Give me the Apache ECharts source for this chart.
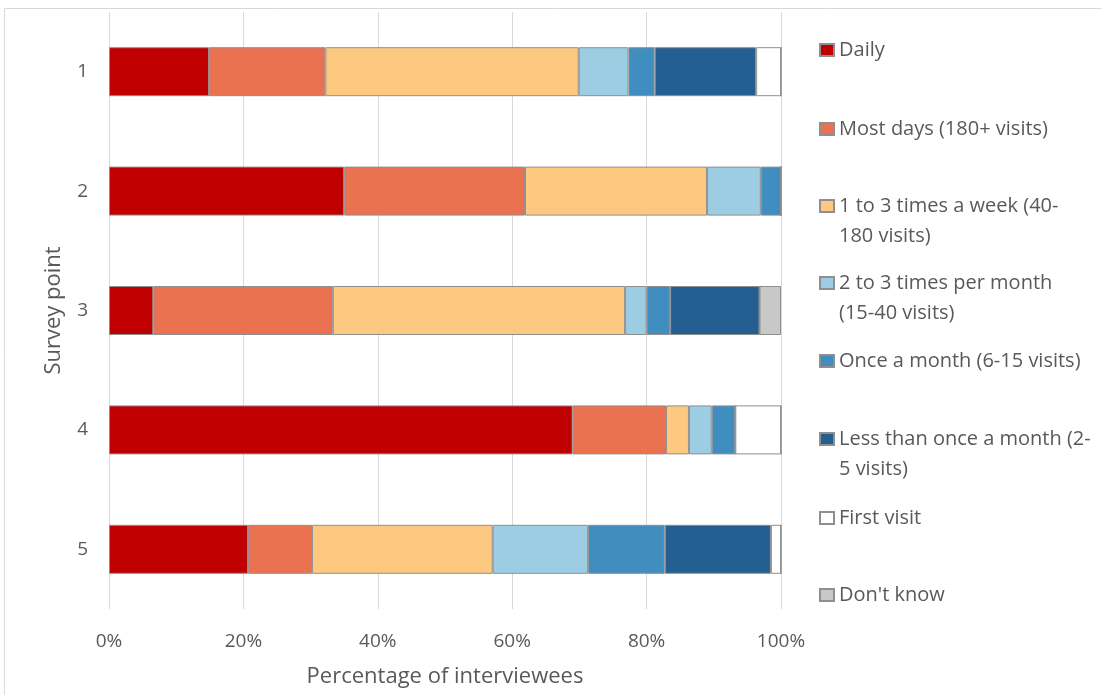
<!DOCTYPE html>
<html>
<head>
<meta charset="utf-8">
<script src="https://cdn.jsdelivr.net/npm/echarts@6/dist/echarts.min.js"></script>
<style>
  html, body { margin: 0; padding: 0; background: #fff; }
  #chart { width: 1101px; height: 695px; }
</style>
</head>
<body>
<div id="chart"></div>
<script>
// Survey points (one stacked bar each) and share of interviewees per visit frequency, in %
const surveyPoints = ['1', '2', '3', '4', '5'];
const daily           = [14.9, 35.0,  6.6, 69.0, 20.7];
const mostDays        = [17.3, 26.9, 26.7, 13.9,  9.5];
const weekly          = [37.7, 27.1, 43.5,  3.4, 26.9];
const twoThreeMonthly = [ 7.4,  8.0,  3.2,  3.4, 14.2];
const monthly         = [ 3.9,  3.0,  3.5,  3.5, 11.4];
const lessThanMonthly = [15.1,  0.0, 13.3,  0.0, 15.8];
const firstVisit      = [ 3.7,  0.0,  0.0,  6.8,  1.5];
const dontKnow        = [ 0.0,  0.0,  3.2,  0.0,  0.0];

const seriesNames = [
  'Daily',
  'Most days (180+ visits)',
  '1 to 3 times a week (40-180 visits)',
  '2 to 3 times per month (15-40 visits)',
  'Once a month (6-15 visits)',
  'Less than once a month (2-5 visits)',
  'First visit',
  "Don't know"
];
// Legend text, wrapped the way it is laid out beside the plot
const legendLines = [
  ['Daily'],
  ['Most days (180+ visits)'],
  ['1 to 3 times a week (40-', '180 visits)'],
  ['2 to 3 times per month', '(15-40 visits)'],
  ['Once a month (6-15 visits)'],
  ['Less than once a month (2-', '5 visits)'],
  ['First visit'],
  ["Don't know"]
];
const seriesValues = [daily, mostDays, weekly, twoThreeMonthly, monthly, lessThanMonthly, firstVisit, dontKnow];
const seriesColors = ['#C00000', '#EA7250', '#FDC980', '#9DCDE3', '#408EC0', '#245F91', '#FFFFFF', '#C8C8C8'];

const FONT = 'Open Sans';
const TEXT = '#595959';
const LINE_H = 30;
const legendCenters = [50, 129, 206, 283, 361, 439, 518, 595];

const series = seriesNames.map((name, i) => ({
  name: name,
  type: 'bar',
  stack: 'total',
  barWidth: 49,
  data: seriesValues[i],
  itemStyle: { color: seriesColors[i], borderColor: '#8F8F8F', borderWidth: 1 },
  emphasis: { disabled: true }
}));

// One legend block per entry so the first text line sits beside its swatch
const legends = seriesNames.map((name, i) => {
  const lines = legendLines[i];
  const text = lines.length > 1 ? '\n' + lines.join('\n') : lines[0];
  const nLines = lines.length > 1 ? 3 : 1;
  return {
    data: [name],
    orient: 'vertical',
    left: 819,
    top: legendCenters[i] - (nLines * LINE_H) / 2,
    padding: 0,
    itemWidth: 14,
    itemHeight: 12,
    icon: 'rect',
    formatter: () => text,
    textStyle: { fontFamily: FONT, fontSize: 20, color: TEXT, lineHeight: LINE_H }
  };
});

const chart = echarts.init(document.getElementById('chart'), null, { renderer: 'canvas' });
chart.setOption({
  backgroundColor: '#fff',
  animation: false,
  textStyle: { fontFamily: FONT },
  grid: { left: 109, right: 320, top: 12, bottom: 86, containLabel: false },
  legend: legends,
  xAxis: {
    type: 'value',
    min: 0,
    max: 100,
    interval: 20,
    axisLabel: { formatter: '{value}%', color: TEXT, fontSize: 19, fontFamily: FONT, margin: 23 },
    axisLine: { show: false },
    axisTick: { show: false },
    splitLine: { show: true, lineStyle: { color: '#D9D9D9', width: 1 } },
    name: 'Percentage of interviewees',
    nameLocation: 'middle',
    nameGap: 57,
    nameTextStyle: { color: TEXT, fontSize: 22, fontFamily: FONT }
  },
  yAxis: {
    type: 'category',
    data: surveyPoints,
    inverse: true,
    axisLabel: { color: TEXT, fontSize: 19, fontFamily: FONT, margin: 21 },
    axisLine: { show: false },
    axisTick: { show: false },
    splitLine: { show: false },
    name: 'Survey point',
    nameLocation: 'middle',
    nameGap: 44,
    nameTextStyle: { color: TEXT, fontSize: 22, fontFamily: FONT }
  },
  graphic: [{
    type: 'rect',
    silent: true,
    shape: { x: 4.5, y: 8.5, width: 1200, height: 800 },
    style: { fill: 'none', stroke: '#D9D9D9', lineWidth: 1 }
  }],
  series: series
});
</script>
</body>
</html>
